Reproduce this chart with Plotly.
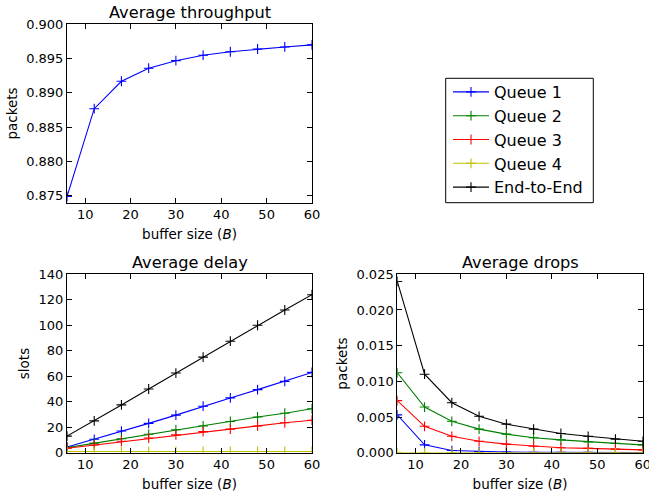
import plotly.graph_objects as go

buffer_size = [6, 12, 18, 24, 30, 36, 42, 48, 54, 60]

throughput = [0.8749, 0.8877, 0.8917, 0.8936, 0.8947, 0.8955, 0.8960, 0.8964, 0.8967, 0.8970]

delay_q1 = [4.5, 10.5, 17.0, 23.0, 29.5, 36.5, 43.0, 49.5, 56.0, 63.0]
delay_q2 = [4.0, 7.5, 11.0, 14.5, 18.0, 21.0, 24.5, 28.0, 31.0, 34.5]
delay_q3 = [3.5, 6.0, 9.0, 11.5, 14.0, 16.5, 18.5, 21.0, 23.5, 25.5]
delay_q4 = [1.0, 1.0, 1.0, 1.0, 1.0, 1.0, 1.0, 1.0, 1.0, 1.0]
delay_e2e = [13.0, 25.0, 37.5, 50.0, 62.5, 75.0, 87.5, 100.0, 112.0, 124.0]

drops_q1 = [0.0053, 0.0011, 0.0003, 0.00015, 0.0001, 0.00007, 0.00005, 0.00004, 0.00003, 0.00003]
drops_q2 = [0.0112, 0.0064, 0.0044, 0.0033, 0.0026, 0.0021, 0.0018, 0.0015, 0.0013, 0.0011]
drops_q3 = [0.0073, 0.0037, 0.0023, 0.0016, 0.0012, 0.0009, 0.0007, 0.0006, 0.0005, 0.0004]
drops_q4 = [0.0, 0.0, 0.0, 0.0, 0.0, 0.0, 0.0, 0.0, 0.0, 0.0]
drops_e2e = [0.0240, 0.0110, 0.0070, 0.0051, 0.0040, 0.0033, 0.0027, 0.0023, 0.0019, 0.0016]

series_names = ["Queue 1", "Queue 2", "Queue 3", "Queue 4", "End-to-End"]
colors = ["#0000ff", "#008000", "#ff0000", "#bfbf00", "#000000"]

FONT = "DejaVu Sans"
TICK = 13
LABEL = 13.5
fig = go.Figure()

def add(x, y, name, color, xa, ya, legend):
    fig.add_trace(go.Scatter(
        x=x, y=y, name=name, mode="lines+markers",
        line=dict(color=color, width=1.1),
        marker=dict(symbol="cross-thin", size=7, line=dict(color=color, width=1.1)),
        xaxis=xa, yaxis=ya, showlegend=legend,
    ))

add(buffer_size, throughput, "Queue 1", colors[0], "x", "y", False)

delays = [delay_q1, delay_q2, delay_q3, delay_q4, delay_e2e]
drops = [drops_q1, drops_q2, drops_q3, drops_q4, drops_e2e]
for name, c, d in zip(series_names, colors, delays):
    add(buffer_size, d, name, c, "x2", "y2", True)
for name, c, d in zip(series_names, colors, drops):
    add(buffer_size, d, name, c, "x3", "y3", False)

W, H = 649, 493
def px(v):
    return v / W
def py(v):
    return 1 - v / H

axis_common = dict(
    showline=True, mirror="ticks", linecolor="black", linewidth=1,
    ticks="inside", ticklen=5, tickcolor="black", tickwidth=1,
    showgrid=False, zeroline=False, automargin=False,
    ticklabeloverflow="allow",
    tickfont=dict(family=FONT, size=TICK, color="black"),
)
label_font = dict(family=FONT, size=LABEL, color="black")
xcommon = dict(axis_common, range=[6, 60], tickvals=[10, 20, 30, 40, 50, 60],
               title=dict(text="buffer size (<i>B</i>)", font=label_font, standoff=8))

fig.update_layout(
    template="none",
    width=W, height=H,
    margin=dict(l=0, r=0, t=0, b=0, autoexpand=False),
    paper_bgcolor="white", plot_bgcolor="white",
    font=dict(family=FONT, color="black"),
    xaxis=dict(xcommon, domain=[px(67), px(312)], anchor="y"),
    yaxis=dict(axis_common, domain=[py(202.7), py(24.3)], anchor="x", range=[0.874, 0.900],
               tickvals=[0.875, 0.880, 0.885, 0.890, 0.895, 0.900], tickformat=".3f",
               title=dict(text="packets", font=label_font, standoff=5)),
    xaxis2=dict(xcommon, domain=[px(67), px(312)], anchor="y2"),
    yaxis2=dict(axis_common, domain=[py(452.7), py(274.3)], anchor="x2", range=[0, 140],
                tickvals=[0, 20, 40, 60, 80, 100, 120, 140],
                title=dict(text="slots", font=label_font, standoff=5)),
    xaxis3=dict(xcommon, domain=[px(397.3), px(642.7)], anchor="y3"),
    yaxis3=dict(axis_common, domain=[py(452.7), py(274.3)], anchor="x3", range=[0, 0.025],
                tickvals=[0, 0.005, 0.010, 0.015, 0.020, 0.025], tickformat=".3f",
                title=dict(text="packets", font=label_font, standoff=5)),
    legend=dict(x=px(448), y=py(75), xanchor="left", yanchor="top",
                borderwidth=0, bgcolor="rgba(0,0,0,0)",
                font=dict(family=FONT, size=16, color="black"),
                itemwidth=36, tracegroupgap=0),
    showlegend=True,
)

fig.add_shape(type="rect", xref="paper", yref="paper",
              x0=px(445.7), x1=px(593.3), y0=py(202.7), y1=py(78.3),
              line=dict(color="black", width=1), fillcolor="rgba(0,0,0,0)", layer="below")

titles = [("Average throughput", px(189.5), py(24.3)),
          ("Average delay", px(189.5), py(274.3)),
          ("Average drops", px(520), py(274.3))]
for t, x, y in titles:
    fig.add_annotation(text=t, x=x, y=y, xref="paper", yref="paper",
                       xanchor="center", yanchor="bottom", yshift=0, showarrow=False,
                       font=dict(family=FONT, size=16.2, color="black"))

fig.write_html("out.html", config={"displayModeBar": False},
               post_script="document.body.style.margin='0';document.body.style.padding='0';document.body.style.overflow='hidden';")
